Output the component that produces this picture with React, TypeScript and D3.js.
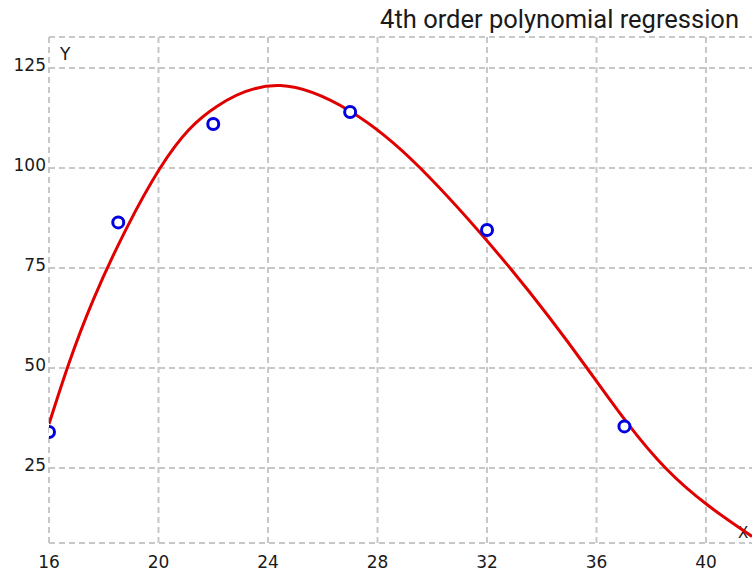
import React from 'react';
import * as d3 from 'd3';

const W = 752;
const H = 574;

const title = '4th order polynomial regression';
const xTicks = [16, 20, 24, 28, 32, 36, 40];
const yTicks = [25, 50, 75, 100, 125];

// observed points
const obsX = [16, 18.53, 22, 27, 32, 37.02];
const obsY = [34, 86.4, 111, 114, 84.5, 35.4];

// fitted curve
const fitX = [16, 17.62, 20.06, 22.13, 24.45, 27, 29.56, 32.9, 35.65, 38.52, 41.68];
const fitY = [36, 67.1, 100, 115.4, 120.6, 114.2, 100, 74.5, 50, 25, 7.9];

const margin = { top: 37, left: 49, bottom: 31 };

const App: React.FC = () => {
  const x = d3.scaleLinear().domain([16, 41.68]).range([margin.left, W]);
  const y = d3.scaleLinear().domain([6.25, 132.75]).range([H - margin.bottom, margin.top]);

  const pts = fitX.map((v, i) => [v, fitY[i]] as [number, number]);
  const line = d3.line<[number, number]>()
    .curve(d3.curveNatural)
    .x(d => x(d[0]))
    .y(d => y(d[1]));

  const top = margin.top;
  const bottom = H - margin.bottom;
  const left = margin.left;
  const grid = { stroke: '#c8c8c8', strokeWidth: 2, strokeDasharray: '6,4' };
  const font = '"DejaVu Sans", Tahoma, sans-serif';

  return (
    <svg width={W} height={H} style={{ position: 'absolute', left: 0, top: 0, background: '#fff' }}>
      <defs>
        <clipPath id="plot-clip">
          <rect x={left} y={top} width={W - left + 20} height={bottom - top} />
        </clipPath>
      </defs>

      {/* grid */}
      {xTicks.map(t => (
        <line key={'gx' + t} x1={x(t)} x2={x(t)} y1={top} y2={bottom} {...grid} />
      ))}
      {yTicks.map(t => (
        <line key={'gy' + t} x1={left} x2={W + 10} y1={y(t)} y2={y(t)} {...grid} />
      ))}
      <line x1={left} x2={W + 10} y1={top} y2={top} {...grid} />
      <line x1={left} x2={W + 10} y1={bottom} y2={bottom} {...grid} />

      {/* tick labels */}
      {xTicks.map(t => (
        <text key={'tx' + t} x={x(t)} y={bottom + 25} textAnchor="middle"
          fontFamily={font} fontSize={17} fill="#1a1a1a">{t}</text>
      ))}
      {yTicks.map(t => (
        <text key={'ty' + t} x={left - 3} y={y(t) + 3} textAnchor="end"
          fontFamily={font} fontSize={17} fill="#1a1a1a">{t}</text>
      ))}

      {/* axis names */}
      <text x={60} y={60} fontFamily={font} fontSize={17} fill="#1a1a1a">Y</text>
      <text x={738} y={538} fontFamily={font} fontSize={15} fill="#1a1a1a">X</text>

      {/* title */}
      <text x={739} y={28} textAnchor="end" fontFamily="Roboto, sans-serif" fontSize={25.5} fill="#1a1a1a">{title}</text>

      <g clipPath="url(#plot-clip)">
        <path d={line(pts) || ''} fill="none" stroke="#e00000" strokeWidth={3} />
        {obsX.map((v, i) => (
          <circle key={'p' + i} cx={x(v)} cy={y(obsY[i])} r={5.5}
            fill="#fff" stroke="#0000e0" strokeWidth={3} />
        ))}
      </g>
    </svg>
  );
};

export default App;
